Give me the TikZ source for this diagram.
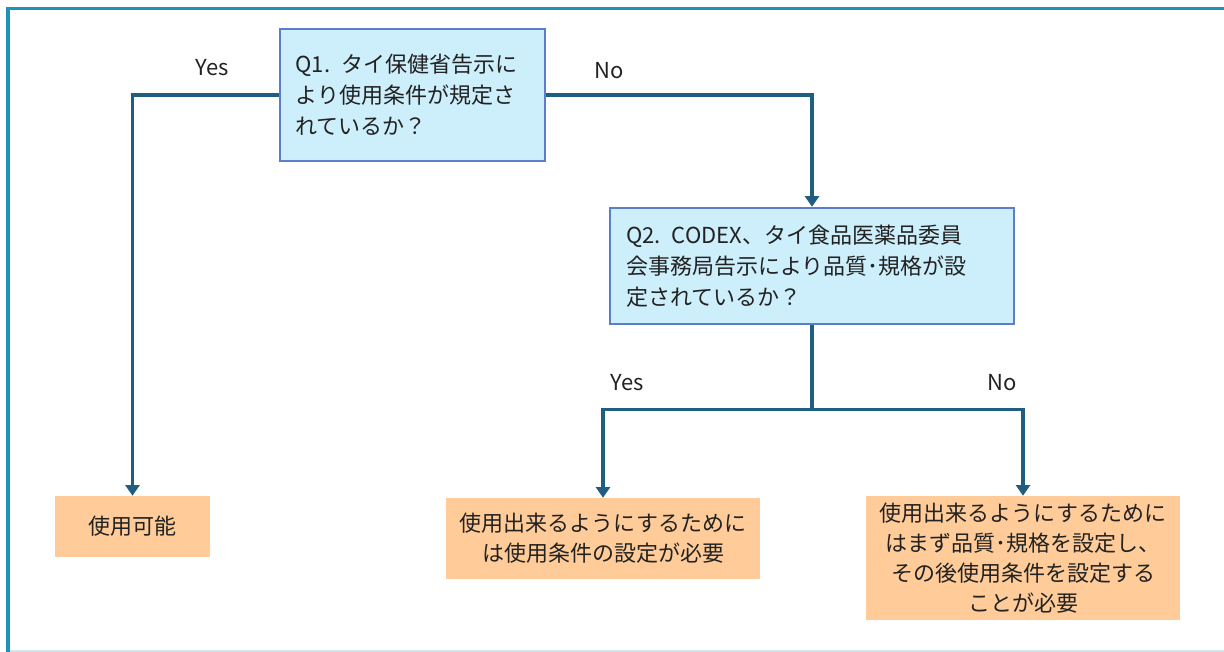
\documentclass[tikz,border=0pt]{standalone}
\usepackage{fontspec}
\setmainfont{Noto Sans CJK JP}
\usetikzlibrary{arrows.meta}
\definecolor{frameC}{HTML}{1E93BA}
\definecolor{frameL}{HTML}{D3E5EA}
\definecolor{qfill}{HTML}{CDEEFB}
\definecolor{qdraw}{HTML}{5A7ECB}
\definecolor{afill}{HTML}{FFCC99}
\definecolor{lineC}{HTML}{1F5E80}
\definecolor{txt}{HTML}{222222}
\tikzset{
  qbox/.style={draw=qdraw, line width=1.8pt, fill=qfill, inner sep=0pt, text=txt,
    font=\fontsize{16.5}{23.3}\selectfont, align=left},
  abox/.style={fill=afill, inner sep=0pt, text=txt,
    font=\fontsize{16.5}{22.5}\selectfont, align=center},
  arr/.style={draw=lineC, line width=2.4pt, line join=miter,
    -{Triangle[width=10.5pt,length=8pt]}},
  lbl/.style={text=txt, font=\fontsize{16.5}{19}\selectfont, inner sep=0pt}
}
\begin{document}
\begin{tikzpicture}[x=0.75pt,y=-0.75pt]
\useasboundingbox (0,0) rectangle (1224,652);
% frame
\fill[white] (0,0) rectangle (1224,652);
\draw[frameL, line width=1.2pt] (8,651) -- (1224,651);
\draw[frameC, line width=2.4pt] (8,652) -- (8,8.5) -- (1224,8.5);
% boxes
\node[qbox, minimum width=265*0.75pt, minimum height=132*0.75pt, text width=234*0.75pt] (q1) at (412.5,95)
  {Q1. タイ保健省告示に\\より使用条件が規定さ\\れているか？};
\node[qbox, minimum width=404*0.75pt, minimum height=116*0.75pt, text width=372*0.75pt] (q2) at (812,266)
  {Q2. CODEX、タイ食品医薬品委員\\会事務局告示により品質･規格が設\\定されているか？};
\node[abox, minimum width=155*0.75pt, minimum height=61*0.75pt] (a1) at (132.5,526.5) {使用可能};
\node[abox, minimum width=314*0.75pt, minimum height=81*0.75pt] (a2) at (603,538.5)
  {使用出来るようにするために\\は使用条件の設定が必要};
\node[abox, minimum width=314*0.75pt, minimum height=124*0.75pt] (a3) at (1023,558)
  {使用出来るようにするために\\はまず品質･規格を設定し、\\その後使用条件を設定する\\ことが必要};
\coordinate (j) at (812,409.5);
% connectors
\draw[arr] (q1.west) -| (a1.north);
\draw[arr] (q1.east) -| (q2.north);
\draw[draw=lineC, line width=2.4pt] (q2.south) -- (j);
\draw[arr] (j) -| (a2.north);
\draw[arr] (j) -| (a3.north);
% labels
\node[lbl] (l1) at (212,68) {Yes};
\node[lbl] (l2) at (609,71) {No};
\node[lbl] (l3) at (627,383) {Yes};
\node[lbl] (l4) at (1002,383) {No};
\end{tikzpicture}
\end{document}
